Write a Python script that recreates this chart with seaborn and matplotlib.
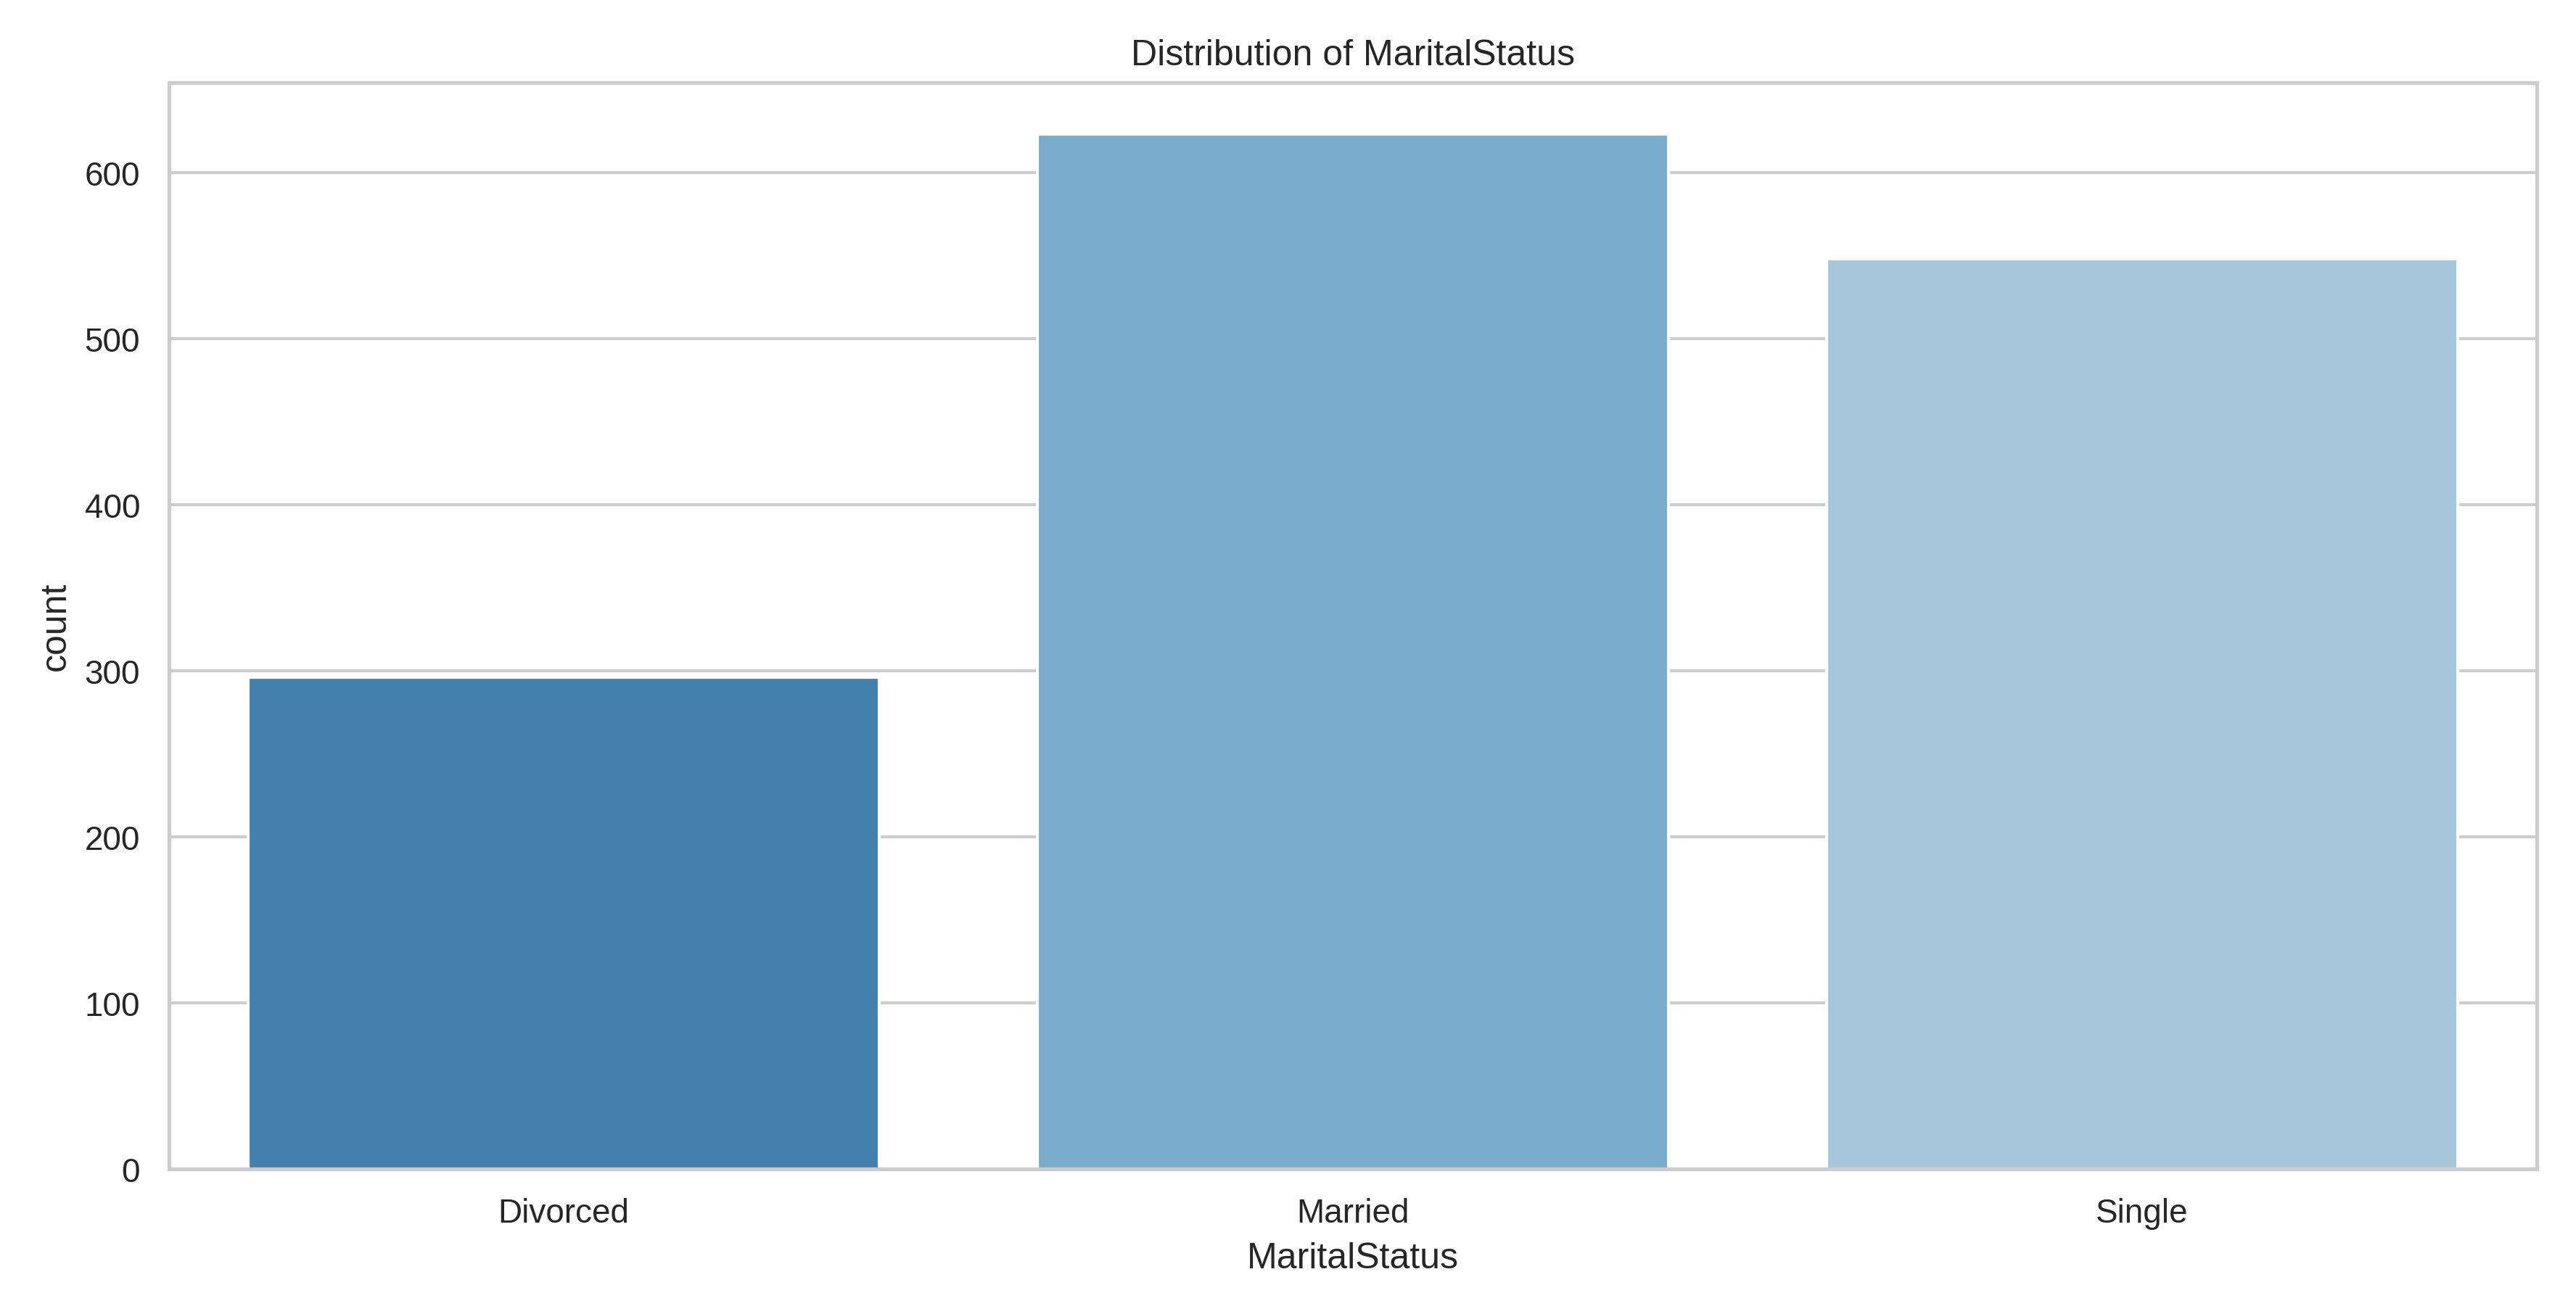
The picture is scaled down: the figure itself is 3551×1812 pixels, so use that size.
import matplotlib
matplotlib.use("Agg")
import matplotlib.pyplot as plt
import seaborn as sns
import pandas as pd

CATEGORIES = ["Divorced", "Married", "Single"]
COUNTS = [296, 623, 548]
COLORS = ["#4380ad", "#79abcb", "#a6c6da"]

sns.set_theme(style="whitegrid")
plt.rcParams["font.family"] = ["Liberation Sans", "DejaVu Sans"]

data = pd.DataFrame({"MaritalStatus": CATEGORIES, "count": COUNTS})

fig = plt.figure(figsize=(11.837, 6.043), dpi=300)
ax = sns.barplot(data=data, x="MaritalStatus", y="count", hue="MaritalStatus",
                 palette=COLORS, saturation=1, legend=False)
ax.set_title("Distribution of MaritalStatus")
plt.tight_layout()
plt.savefig("out.png", dpi=300)
